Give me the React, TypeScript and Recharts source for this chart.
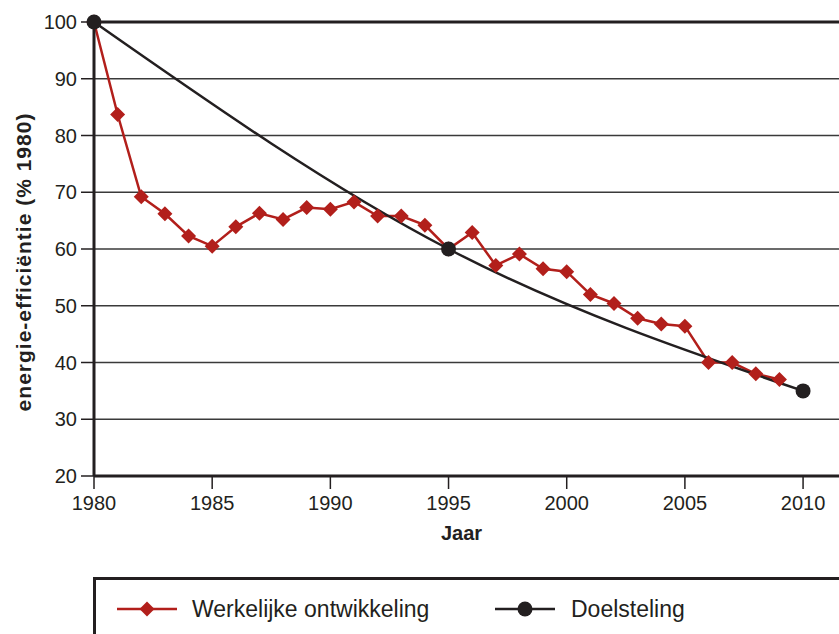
import React from 'react';
import { LineChart, Line, XAxis, YAxis, CartesianGrid, ReferenceLine, Label } from 'recharts';

// energie-efficiency, index 1980 = 100
const years = [1980, 1981, 1982, 1983, 1984, 1985, 1986, 1987, 1988, 1989, 1990, 1991, 1992, 1993, 1994, 1995,
    1996, 1997, 1998, 1999, 2000, 2001, 2002, 2003, 2004, 2005, 2006, 2007, 2008, 2009, 2010];
const werkelijk = [100, 83.7, 69.2, 66.2, 62.3, 60.5, 63.9, 66.3, 65.2, 67.3, 67.0, 68.3, 65.8, 65.8, 64.2, 60.0,
    62.9, 57.1, 59.1, 56.5, 56.0, 52.0, 50.4, 47.8, 46.8, 46.4, 40.0, 40.0, 38.0, 37.0, null];
const doelJaren = [1980, 1995, 2010];
const doelWaarden = [100, 60, 35];
const xTicks = [1980, 1985, 1990, 1995, 2000, 2005, 2010];
const yTicks = [20, 30, 40, 50, 60, 70, 80, 90, 100];

const RED = '#b21f1b';
const INK = '#231f20';
const FONT = '"Liberation Sans", Arial, sans-serif';

const data = years.map((year, i) => {
    const d = doelJaren.indexOf(year);
    return { year, werkelijk: werkelijk[i], doel: d >= 0 ? doelWaarden[d] : null };
});

const Diamond = (props: any) => {
    const { cx, cy, index } = props;
    if (cx == null || cy == null) return <g key={`d-${index}`} />;
    const s = 7.5;
    return <polygon key={`d-${index}`} points={`${cx},${cy - s} ${cx + s},${cy} ${cx},${cy + s} ${cx - s},${cy}`} fill={RED} />;
};

const App: React.FC = () => {
    const tickStyle = { fontSize: 20, fill: INK, fontFamily: FONT };
    return (
        <div style={{ position: 'absolute', left: 0, top: 0, width: 839, height: 634, overflow: 'hidden', background: '#fff', fontFamily: FONT }}>
            <LineChart width={839} height={634} data={data} margin={{ top: 22, right: 0, left: 0, bottom: 88 }}>
                <CartesianGrid vertical={false} stroke="#3a3a3a" strokeWidth={1.5} />
                <ReferenceLine y={100} stroke={INK} strokeWidth={3} />
                <XAxis
                    dataKey="year"
                    type="number"
                    domain={[1980, 2011.52]}
                    ticks={xTicks}
                    height={70}
                    tickSize={13}
                    tickMargin={7}
                    axisLine={{ stroke: INK, strokeWidth: 3 }}
                    tickLine={{ stroke: INK, strokeWidth: 1.5 }}
                    tick={tickStyle}
                >
                    <Label content={({ viewBox }: any) => (
                        <text x={viewBox.x + viewBox.width / 2 - 5} y={540} textAnchor="middle" fontSize={20} fontWeight="bold" fill={INK} fontFamily={FONT}>Jaar</text>
                    )} />
                </XAxis>
                <YAxis
                    type="number"
                    domain={[20, 100]}
                    ticks={yTicks}
                    width={94}
                    tickSize={13}
                    tickMargin={4}
                    axisLine={{ stroke: INK, strokeWidth: 3 }}
                    tickLine={{ stroke: INK, strokeWidth: 1.5 }}
                    tick={tickStyle}
                >
                    <Label content={() => (
                        <text x={31} y={262} transform="rotate(-90 31 262)" textAnchor="middle" fontSize={21} letterSpacing={1} fontWeight="bold" fill={INK} fontFamily={FONT}>
                            energie-efficiëntie (% 1980)
                        </text>
                    )} />
                </YAxis>
                <Line dataKey="werkelijk" stroke={RED} strokeWidth={2.5} dot={<Diamond />} activeDot={false} isAnimationActive={false} />
                <Line dataKey="doel" type="natural" connectNulls stroke={INK} strokeWidth={2.5} dot={{ r: 7.5, fill: INK, stroke: 'none' }} activeDot={false} isAnimationActive={false} />
            </LineChart>
            <div style={{ position: 'absolute', left: 93, top: 577, width: 800, height: 100, border: `3px solid ${INK}`, boxSizing: 'border-box' }} />
            <svg style={{ position: 'absolute', left: 0, top: 590 }} width={839} height={40}>
                <line x1={117} x2={177} y1={19} y2={19} stroke={RED} strokeWidth={2.5} />
                <polygon points="147,11.5 154.5,19 147,26.5 139.5,19" fill={RED} />
                <text x={192} y={27} fontSize={23} fill={INK} fontFamily={FONT}>Werkelijke ontwikkeling</text>
                <line x1={495} x2={555} y1={19} y2={19} stroke={INK} strokeWidth={2.5} />
                <circle cx={525} cy={19} r={7.5} fill={INK} />
                <text x={571} y={27} fontSize={23} fill={INK} fontFamily={FONT}>Doelsteling</text>
            </svg>
        </div>
    );
};

export default App;
